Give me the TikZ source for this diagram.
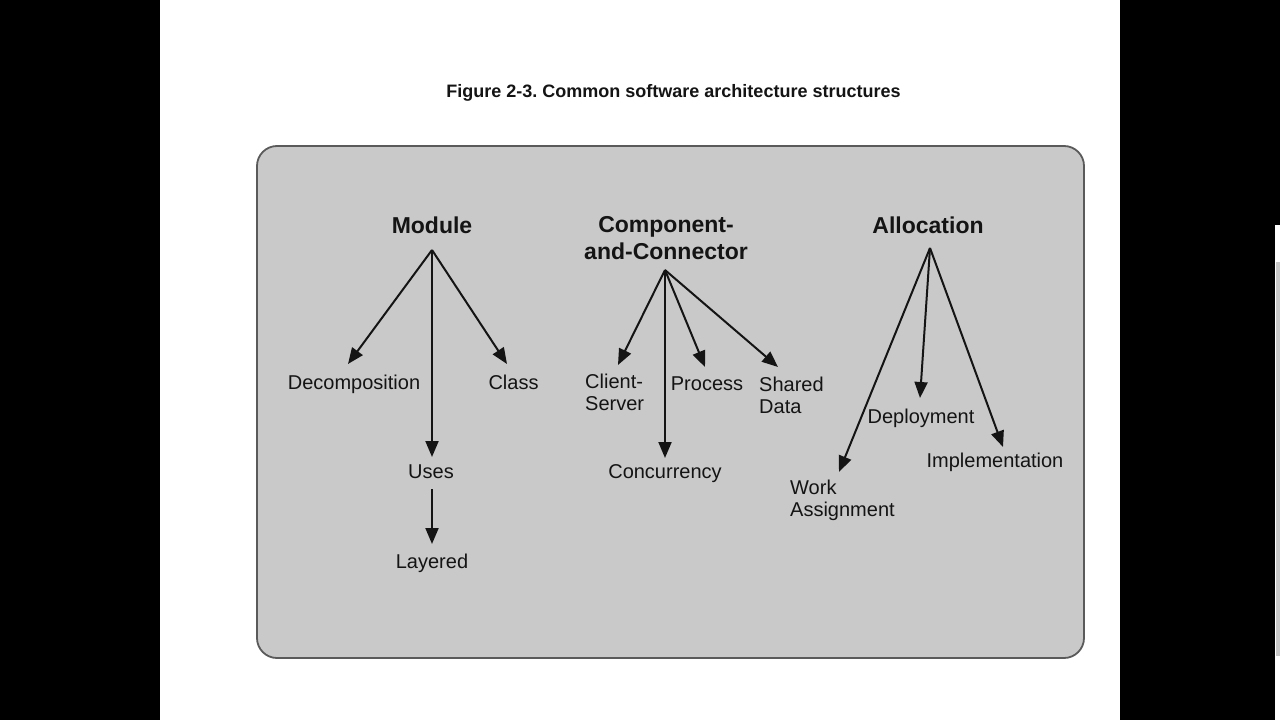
\documentclass[tikz,border=0pt]{standalone}
\usepackage{fontspec}
\setmainfont{Liberation Sans}
\usetikzlibrary{arrows.meta}
\definecolor{boxgray}{RGB}{201,201,201}
\definecolor{edgegray}{RGB}{90,90,90}
\definecolor{ink}{RGB}{20,20,20}
\frenchspacing
\begin{document}
\begin{tikzpicture}[x=1pt,y=-1pt,
  hdr/.style={font=\bfseries\fontsize{23}{27}\selectfont, text=ink, inner sep=0pt, align=center},
  lbl/.style={font=\fontsize{20}{22}\selectfont, text=ink, inner sep=0pt},
  arr/.style={line width=2pt, draw=ink, -{Triangle[length=16pt,width=13pt]}}]
\useasboundingbox (0,0) rectangle (1280,720);
% screen background
\fill[black] (0,0) rectangle (1280,720);
\fill[white] (160,0) rectangle (1120,720);
\fill[white] (1275,225) rectangle (1280,720);
\fill[boxgray] (1276,262) rectangle (1280,656);
% title
\node[font=\bfseries\fontsize{18}{22}\selectfont, inner sep=0pt, anchor=base, text=ink] (title) at (673.5,97) {Figure 2-3. Common software architecture structures};
% frame
\draw[edgegray, line width=1.8pt, fill=boxgray, rounded corners=20pt] (257,146) rectangle (1084,658);
% headers
\node[hdr, anchor=base] (module) at (432,233) {Module};
\node[hdr, anchor=north] (cc) at (666,216) {Component-\\and-Connector};
\node[hdr, anchor=base] (alloc) at (928,233) {Allocation};
% module labels
\node[lbl, anchor=base] (decomp) at (354,389) {Decomposition};
\node[lbl, anchor=base] (class) at (513.5,389) {Class};
\node[lbl, anchor=base] (uses) at (431,478) {Uses};
\node[lbl, anchor=base] (layered) at (432,568) {Layered};
% c&c labels
\node[lbl, anchor=north west, align=left] (client) at (585,374) {Client-\\Server};
\node[lbl, anchor=base] (process) at (707,390) {Process};
\node[lbl, anchor=north west, align=left] (shared) at (759,377) {Shared\\Data};
\node[lbl, anchor=base] (concur) at (665,478) {Concurrency};
% allocation labels
\node[lbl, anchor=base] (deploy) at (921,423) {Deployment};
\node[lbl, anchor=base] (impl) at (995,467) {Implementation};
\node[lbl, anchor=north west, align=left] (work) at (790,479.5) {Work\\Assignment};
% hubs and tips
\coordinate (mhub) at (432,250);
\coordinate (chub) at (665,270);
\coordinate (ahub) at (930,248);
\coordinate (tdec) at (348,364);
\coordinate (tcls) at (507,364);
\coordinate (tuse) at (432,457);
\coordinate (suse) at (432,489);
\coordinate (tlay) at (432,544);
\coordinate (tcli) at (618,365);
\coordinate (tpro) at (705,367);
\coordinate (tsha) at (778,367);
\coordinate (tcon) at (665,458);
\coordinate (tdep) at (920,398);
\coordinate (timp) at (1003,447);
\coordinate (twor) at (839,472);
% arrows
\draw[arr] (mhub) -- (tdec);
\draw[arr] (mhub) -- (tcls);
\draw[arr] (mhub) -- (tuse);
\draw[arr] (suse) -- (tlay);
\draw[arr] (chub) -- (tcli);
\draw[arr] (chub) -- (tpro);
\draw[arr] (chub) -- (tsha);
\draw[arr] (chub) -- (tcon);
\draw[arr] (ahub) -- (tdep);
\draw[arr] (ahub) -- (timp);
\draw[arr] (ahub) -- (twor);
\end{tikzpicture}
\end{document}
